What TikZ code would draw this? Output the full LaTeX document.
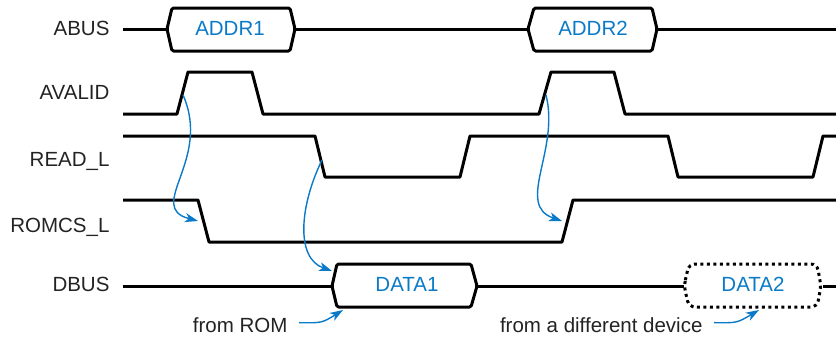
\documentclass[tikz,border=0pt]{standalone}
\usepackage{fontspec}
\setmainfont{Liberation Sans}
\usepackage{xcolor}
\definecolor{tdblue}{RGB}{10,122,200}
\definecolor{tdink}{RGB}{35,35,35}
\usepackage{tikz}
\usetikzlibrary{arrows.meta, positioning}

\begin{document}
\begin{tikzpicture}[x=1pt, y=-1pt,
    sig/.style={line width=3pt, black, line join=round},
    flow/.style={-{Stealth[length=13pt, width=9pt, inset=3.5pt]}, tdblue, line width=1.4pt},
    signame/.style={font=\fontsize{20.5}{24}\selectfont, tdink, anchor=base east},
    busval/.style={font=\fontsize{20.5}{24}\selectfont, tdblue, anchor=base},
    note/.style={font=\fontsize{20.5}{24}\selectfont, tdink, anchor=base east}]
  \useasboundingbox (0,0) rectangle (836,338);

  % Signal names
  \node[signame] (nabus)   at (113,35)  {ABUS};
  \node[signame] (navalid) at (113,99)  {AVALID};
  \node[signame] (nread)   at (113,166) {READ\_L};
  \node[signame] (nromcs)  at (113,232) {ROMCS\_L};
  \node[signame] (ndbus)   at (113,291) {DBUS};

  % --- ABUS ---
  \draw[sig] (123,29) -- (167,29);
  \draw[sig, rounded corners=1.5pt] (167,29) -- (172,8) -- (290,8) -- (295,29) -- (290,51) -- (172,51) -- cycle;
  \draw[sig] (295,29) -- (528,29);
  \draw[sig, rounded corners=1.5pt] (528,29) -- (534,8) -- (652,8) -- (657,29) -- (652,51) -- (534,51) -- cycle;
  \draw[sig] (657,29) -- (836,29);
  \node[busval] (addr1) at (230,35) {ADDR1};
  \node[busval] (addr2) at (593,35) {ADDR2};

  % --- AVALID ---
  \draw[sig] (123,114) -- (177,114) -- (188,72) -- (252,72) -- (263,114) --
    (539,114) -- (551,72) -- (614,72) -- (625,114) -- (836,114);

  % --- READ_L ---
  \draw[sig] (123,136) -- (315,136) -- (325,177) -- (460,177) -- (470,136) --
    (668,136) -- (678,177) -- (813,177) -- (823,136) -- (836,136);

  % --- ROMCS_L ---
  \draw[sig] (123,200) -- (198,200) -- (209,242) -- (562,242) -- (573,200) -- (836,200);

  % --- DBUS ---
  \draw[sig] (123,286) -- (332,286);
  \draw[sig, rounded corners=1.5pt] (332,286) -- (337,264) -- (471,264) -- (477,286) -- (471,307) -- (337,307) -- cycle;
  \draw[sig] (477,286) -- (684,286);
  \draw[sig, dash pattern=on 3pt off 3.5pt, rounded corners=6pt] (684,286) -- (689,264) -- (817,264) -- (821,286) -- (817,307) -- (689,307) -- cycle;
  \draw[sig] (823,286) -- (836,286);
  \node[busval] (data1) at (407,291) {DATA1};
  \node[busval] (data2) at (753,291) {DATA2};

  % Cause and effect
  \coordinate (avrise1) at (183,95);
  \coordinate (csfall)  at (198,221);
  \coordinate (rdfall)  at (322,160);
  \coordinate (d1start) at (332,271);
  \coordinate (avrise2) at (546,95);
  \coordinate (csrise)  at (562,221);
  \draw[flow] (avrise1) .. controls (212,160) and (145,207) .. (csfall);
  \draw[flow] (rdfall) .. controls (300,205) and (295,258) .. (d1start);
  \draw[flow] (avrise2) .. controls (560,150) and (515,205) .. (csrise);

  % Notes
  \node[note] (fromrom) at (291,332) {from ROM};
  \node[note] (fromdev) at (706,332) {from a different device};
  \coordinate (d1foot) at (343,310);
  \coordinate (d2foot) at (759,310);
  \draw[flow] ([xshift=8pt, yshift=2pt]fromrom.east) .. controls (322,323) .. (d1foot);
  \draw[flow] ([xshift=8pt, yshift=2pt]fromdev.east) .. controls (737,323) .. (d2foot);
\end{tikzpicture}
\end{document}
